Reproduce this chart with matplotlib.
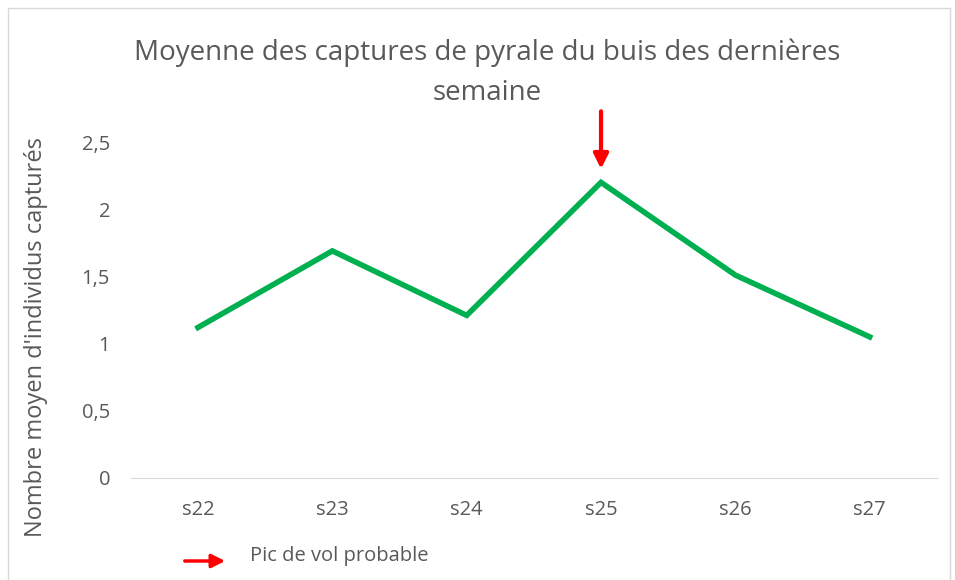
import matplotlib.pyplot as plt
from matplotlib.patches import Rectangle

semaines = ['s22', 's23', 's24', 's25', 's26', 's27']
moyennes = [1.12, 1.69, 1.21, 2.20, 1.51, 1.05]
yticks = [0, 0.5, 1, 1.5, 2, 2.5]
ytick_labels = ['0', '0,5', '1', '1,5', '2', '2,5']
pic = 3  # index of s25

plt.rcParams['font.family'] = ['Open Sans', 'DejaVu Sans']
grey = '#595959'

fig = plt.figure(figsize=(9.55, 5.8), dpi=100)
ax = fig.add_axes([0.137, 0.176, 0.844, 0.579])

x = list(range(len(semaines)))
ax.plot(x, moyennes, color='#00b050', linewidth=4, solid_joinstyle='miter')

ax.set_xlim(-0.5, len(semaines) - 0.5)
ax.set_ylim(0, 2.5)
ax.set_xticks(x)
ax.set_xticklabels(semaines)
ax.set_yticks(yticks)
ax.set_yticklabels(ytick_labels)
ax.tick_params(axis='both', length=0, labelsize=14.5, colors=grey)
ax.tick_params(axis='x', pad=16)
ax.tick_params(axis='y', pad=15)

# spines
for s in ['top', 'right', 'left']:
    ax.spines[s].set_visible(False)
ax.spines['bottom'].set_color('#d9d9d9')

ax.set_ylabel("Nombre moyen d'individus capturés", fontsize=17, color=grey)
ax.yaxis.set_label_coords(-0.103, 0.42)

fig.text(0.51, 1 - 73 / 580, 'Moyenne des captures de pyrale du buis des dernières\nsemaine',
         fontsize=20, color=grey, ha='center', va='center', linespacing=1.55)

# arrow on the peak
ax.annotate('', xy=(pic, 2.28), xytext=(pic, 2.75),
            arrowprops=dict(arrowstyle='-|>', color='red', lw=3, mutation_scale=22),
            annotation_clip=False)

# frame
fig.patches.append(Rectangle((8 / 955, -0.1), 942 / 955, 1.1 - 8 / 580, transform=fig.transFigure,
                             fill=False, edgecolor='#d9d9d9', lw=1))

# legend arrow
ax.annotate('', xy=(228 / 955, 1 - 561 / 580), xytext=(182 / 955, 1 - 561 / 580),
            xycoords='figure fraction', textcoords='figure fraction',
            arrowprops=dict(arrowstyle='-|>', color='red', lw=2.5, mutation_scale=20))
fig.text(250 / 955, 1 - 556 / 580, 'Pic de vol probable', fontsize=14.5, color=grey, va='center')

fig.savefig('out.png', dpi=100)
